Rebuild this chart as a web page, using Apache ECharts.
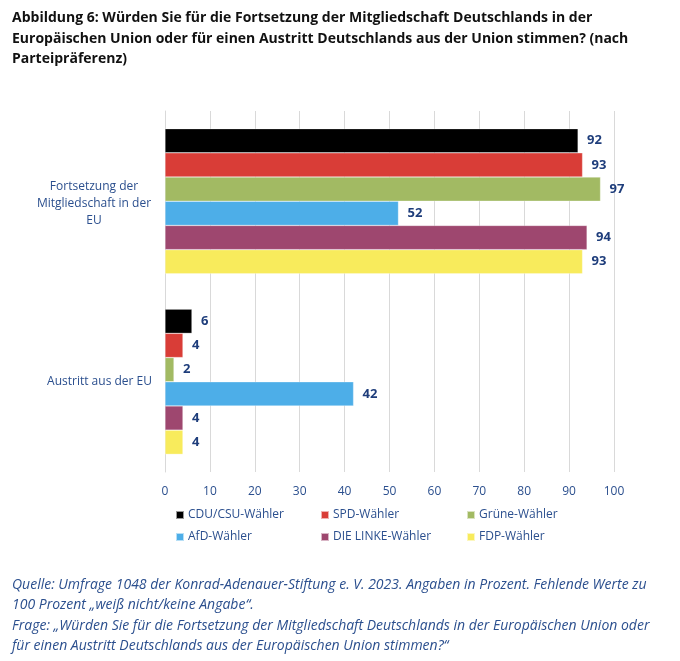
<!DOCTYPE html>
<html><head><meta charset="utf-8">
<script src="https://cdn.jsdelivr.net/npm/echarts@6/dist/echarts.min.js"></script>
<style>html,body{margin:0;padding:0;background:#fff}#c{width:680px;height:661px}</style>
</head><body><div id="c"></div>
<script>
const categories = ['Fortsetzung der\nMitgliedschaft in der\nEU', 'Austritt aus der EU'];
const seriesNames = ['CDU/CSU-Wähler', 'SPD-Wähler', 'Grüne-Wähler', 'AfD-Wähler', 'DIE LINKE-Wähler', 'FDP-Wähler'];
const cdu = [92, 6];
const spd = [93, 4];
const gruene = [97, 2];
const afd = [52, 42];
const linke = [94, 4];
const fdp = [93, 4];
const xTicks = [0, 10, 20, 30, 40, 50, 60, 70, 80, 90, 100];
const titleText = 'Abbildung 6: Würden Sie für die Fortsetzung der Mitgliedschaft Deutschlands in der\nEuropäischen Union oder für einen Austritt Deutschlands aus der Union stimmen? (nach\nParteipräferenz)';
const noteText = 'Quelle: Umfrage 1048 der Konrad-Adenauer-Stiftung e. V. 2023. Angaben in Prozent. Fehlende Werte zu\n100 Prozent „weiß nicht/keine Angabe“.\nFrage: „Würden Sie für die Fortsetzung der Mitgliedschaft Deutschlands in der Europäischen Union oder\nfür einen Austritt Deutschlands aus der Europäischen Union stimmen?“';

const allValues = [cdu, spd, gruene, afd, linke, fdp];
const colors = ['#000000', '#D93D37', '#A2BA63', '#4DAEE8', '#9E476F', '#F8EB5C'];
const navy = '#2B4F8E';
const font = 'Open Sans';

const chart = echarts.init(document.getElementById('c'), null, {renderer: 'canvas'});
const legendPos = [[175, 509], [320, 509], [466, 509], [175, 531], [320, 531], [466, 531]];
chart.setOption({
  animation: false,
  textStyle: {fontFamily: font},
  title: [
    {text: titleText, left: 12, top: 8, padding: 0,
     textStyle: {fontFamily: font, fontWeight: 'bold', fontSize: 14, color: '#111', lineHeight: 20.5}},
    {text: noteText, left: 12, top: 575, padding: 0,
     textStyle: {fontFamily: font, fontStyle: 'italic', fontWeight: 'normal', fontSize: 14, color: navy, lineHeight: 20.3}}
  ],
  legend: seriesNames.map((n, i) => ({
    data: [n], left: legendPos[i][0], top: legendPos[i][1], padding: 0,
    itemWidth: 8, itemHeight: 8, itemGap: 0, icon: 'rect',
    textStyle: {fontFamily: font, fontSize: 12, color: navy, padding: [0, 0, 0, -1]}
  })),
  grid: {left: 165, right: 66, top: 111, bottom: 189, containLabel: false},
  xAxis: {
    type: 'value', min: xTicks[0], max: xTicks[xTicks.length - 1], interval: 10,
    axisLine: {show: false}, axisTick: {show: false},
    splitLine: {lineStyle: {color: '#D9D9D9', width: 1}},
    axisLabel: {color: navy, fontSize: 12, fontFamily: font, margin: 14}
  },
  yAxis: {
    type: 'category', data: categories, inverse: true,
    axisLine: {show: true, lineStyle: {color: '#D9D9D9'}}, axisTick: {show: false},
    axisLabel: {
      color: navy, fontSize: 12, fontFamily: font, margin: 13, lineHeight: 17,
      formatter: v => v.indexOf('\n') >= 0 ? v.split('\n').map(l => '{c|' + l + '}').join('\n') : v,
      rich: {c: {width: 116, align: 'center', color: navy, fontSize: 12, fontFamily: font, lineHeight: 17, padding: [4, 0, 0, 0]}}
    }
  },
  series: seriesNames.map((n, i) => ({
    name: n, type: 'bar', data: allValues[i], barWidth: 24.2, barGap: '0%',
    itemStyle: {color: colors[i], borderColor: 'rgba(255,255,255,0.6)', borderWidth: 0.5},
    label: {show: true, position: 'right', distance: 9, fontFamily: font, fontWeight: 'bold', fontSize: 13, color: '#1E3D7B'}
  }))
});
</script></body></html>
